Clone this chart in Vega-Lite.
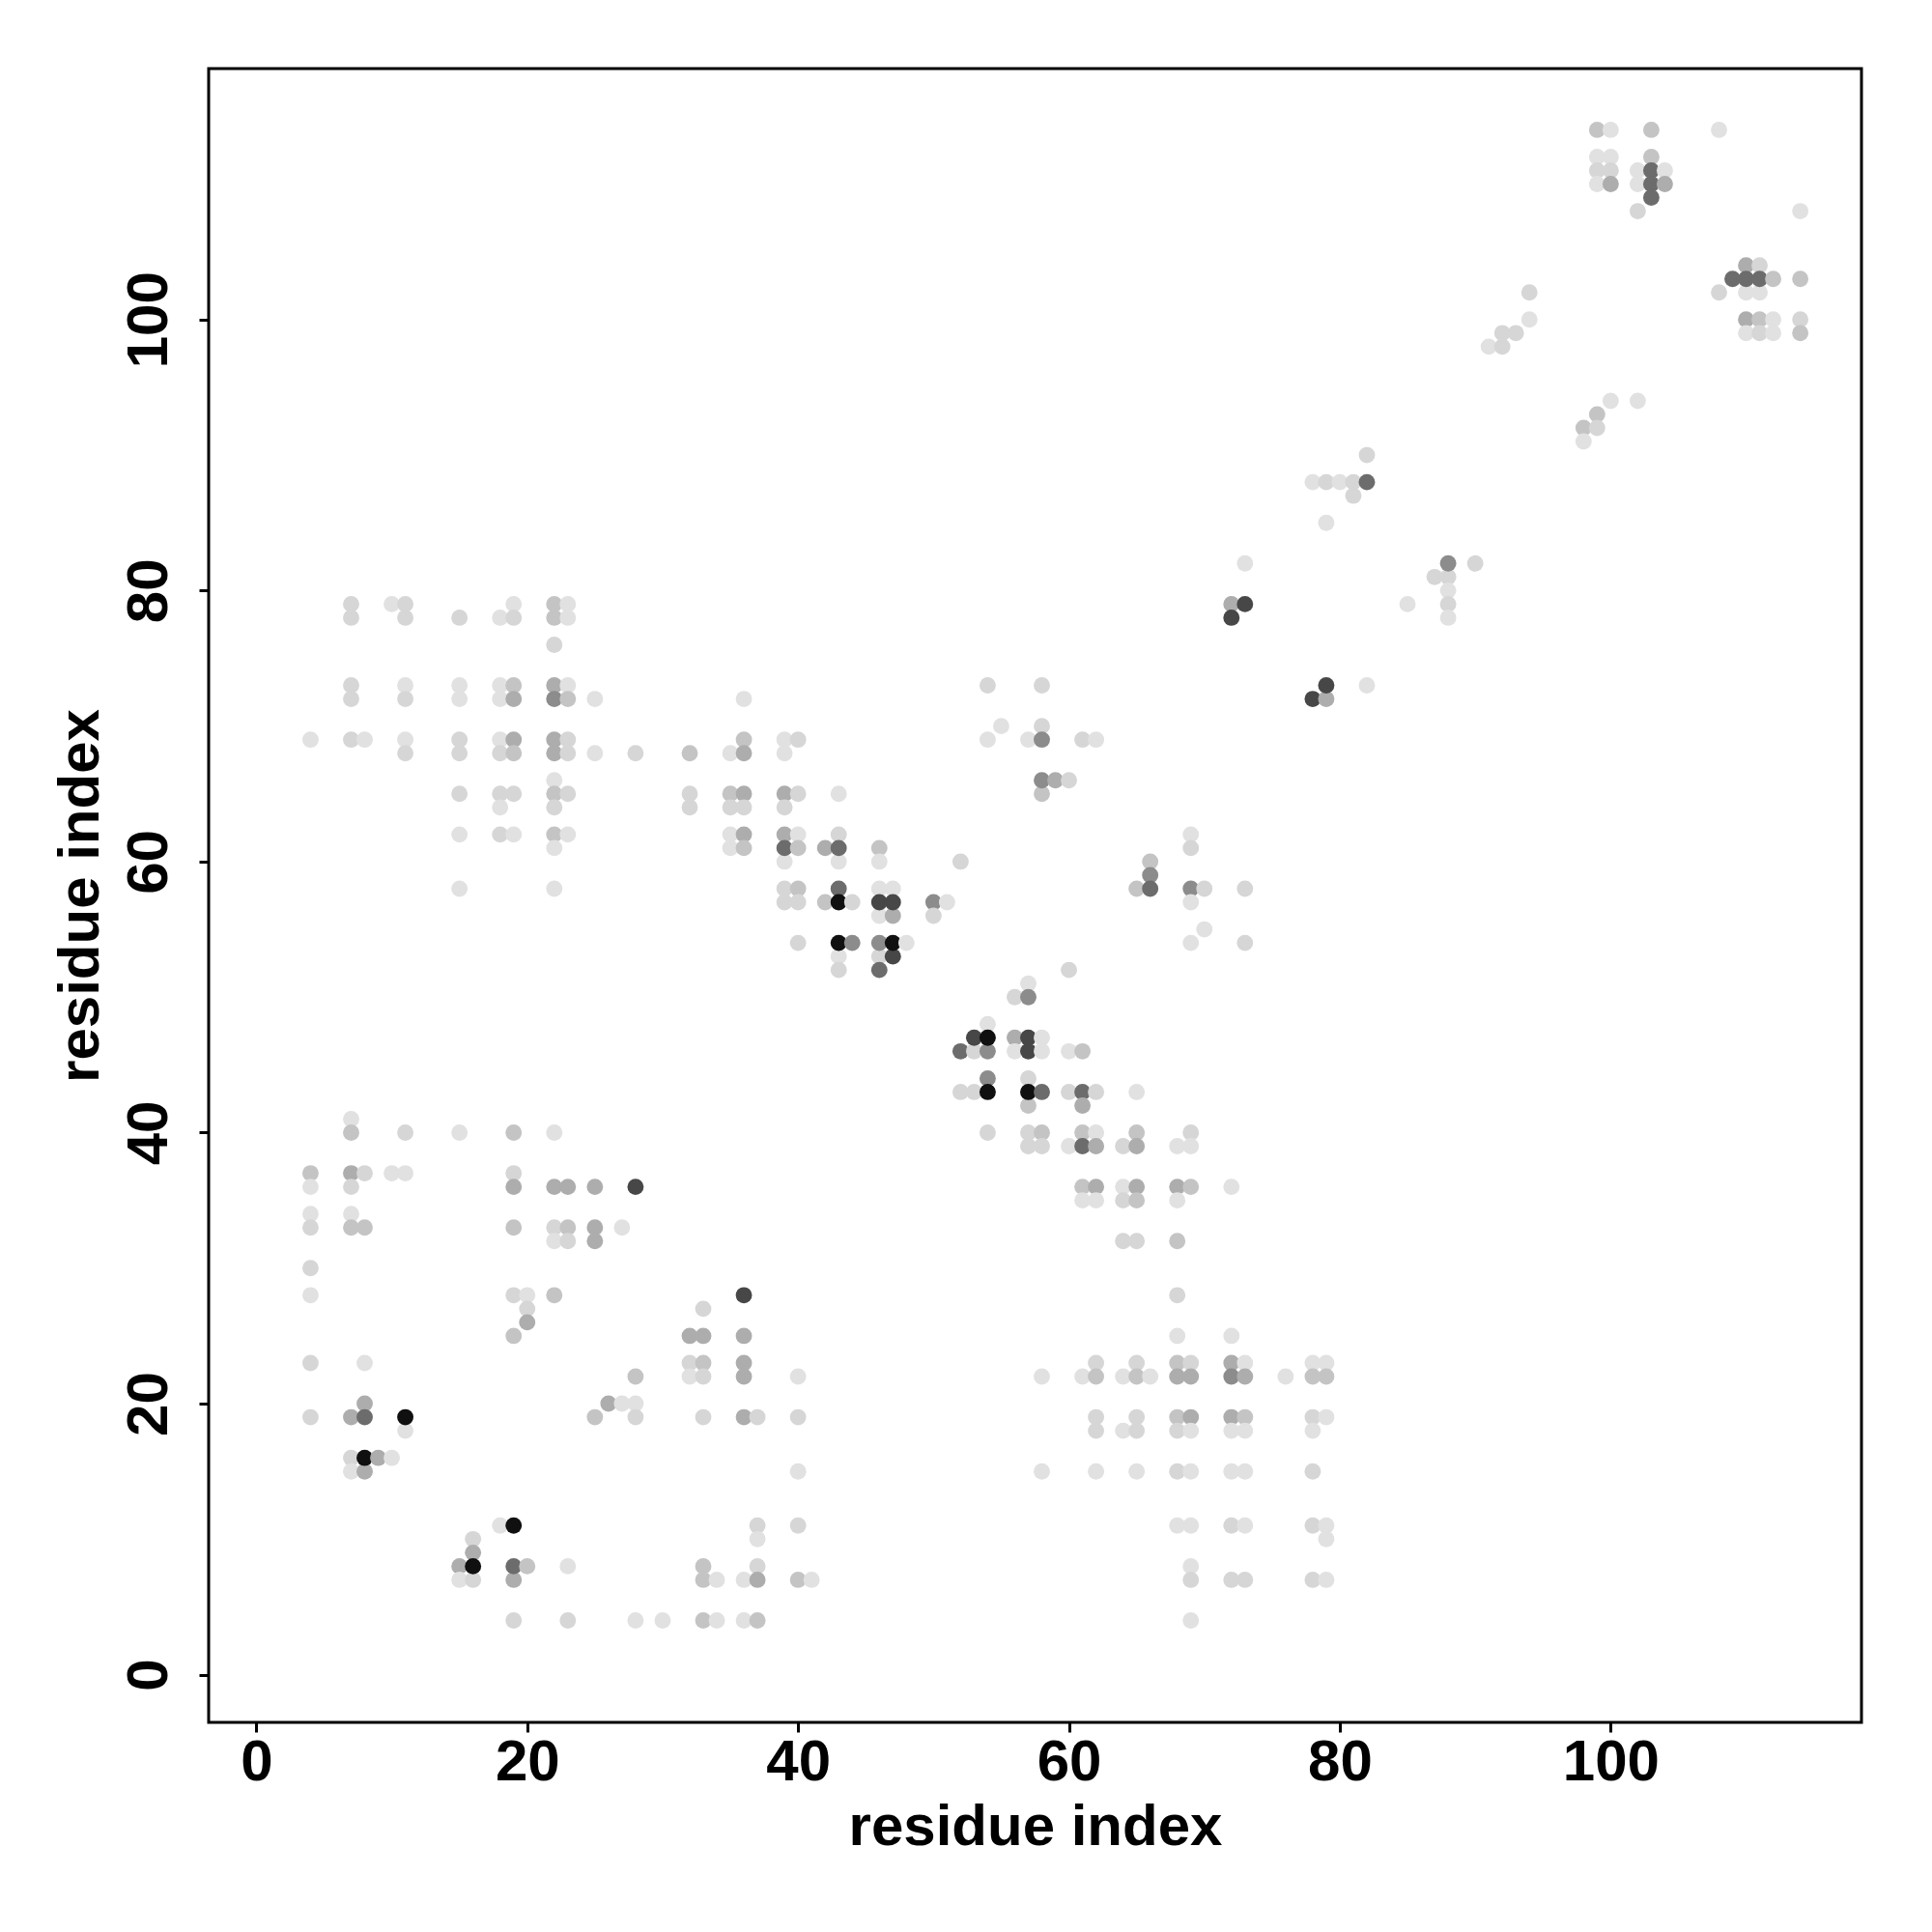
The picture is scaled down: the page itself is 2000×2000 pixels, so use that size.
{
  "$schema": "https://vega.github.io/schema/vega-lite/v6.json",
  "autosize": {"type": "none"},
  "padding": {"left": 216, "top": 71, "right": 73, "bottom": 216},
  "width": 1711,
  "height": 1712,
  "background": "white",
  "config": {
    "view": {"stroke": "#000000", "strokeWidth": 3},
    "font": "Liberation Sans"
  },
  "datasets": {
    "lv": [
      {"lvl": "VL", "p": 0.02}, {"lvl": "L", "p": 0.07}, {"lvl": "ML", "p": 0.15}, {"lvl": "M", "p": 0.25},
      {"lvl": "MD", "p": 0.39}, {"lvl": "D", "p": 0.53}, {"lvl": "VD", "p": 0.69}, {"lvl": "B", "p": 0.93}
    ]
  },
  "data": {
    "values": [
      {"i":4,"j":37,"lvl":"ML"},{"i":4,"j":36,"lvl":"VL"},{"i":4,"j":34,"lvl":"VL"},{"i":4,"j":33,"lvl":"L"},{"i":4,"j":30,"lvl":"L"},{"i":4,"j":28,"lvl":"VL"},{"i":4,"j":23,"lvl":"L"},{"i":4,"j":19,"lvl":"L"},{"i":4,"j":69,"lvl":"VL"},
      {"i":7,"j":41,"lvl":"VL"},{"i":7,"j":40,"lvl":"ML"},{"i":7,"j":37,"lvl":"M"},{"i":7,"j":36,"lvl":"L"},{"i":7,"j":34,"lvl":"VL"},{"i":7,"j":33,"lvl":"ML"},{"i":7,"j":19,"lvl":"M"},{"i":7,"j":16,"lvl":"L"},{"i":7,"j":15,"lvl":"VL"},
      {"i":7,"j":79,"lvl":"L"},{"i":7,"j":78,"lvl":"L"},{"i":7,"j":73,"lvl":"L"},{"i":7,"j":72,"lvl":"L"},{"i":7,"j":69,"lvl":"L"},
      {"i":8,"j":37,"lvl":"L"},{"i":8,"j":33,"lvl":"ML"},{"i":8,"j":23,"lvl":"VL"},{"i":8,"j":20,"lvl":"M"},{"i":8,"j":19,"lvl":"D"},{"i":8,"j":15,"lvl":"M"},{"i":8,"j":16,"lvl":"B"},{"i":8,"j":69,"lvl":"VL"},
      {"i":9,"j":16,"lvl":"M"},
      {"i":10,"j":37,"lvl":"VL"},{"i":10,"j":16,"lvl":"VL"},{"i":10,"j":79,"lvl":"VL"},
      {"i":11,"j":40,"lvl":"L"},{"i":11,"j":37,"lvl":"VL"},{"i":11,"j":18,"lvl":"VL"},{"i":11,"j":19,"lvl":"B"},
      {"i":11,"j":79,"lvl":"L"},{"i":11,"j":78,"lvl":"L"},{"i":11,"j":73,"lvl":"VL"},{"i":11,"j":72,"lvl":"L"},{"i":11,"j":69,"lvl":"VL"},{"i":11,"j":68,"lvl":"L"},
      {"i":15,"j":40,"lvl":"VL"},{"i":15,"j":8,"lvl":"M"},{"i":15,"j":7,"lvl":"VL"},
      {"i":15,"j":78,"lvl":"L"},{"i":15,"j":73,"lvl":"VL"},{"i":15,"j":72,"lvl":"VL"},{"i":15,"j":69,"lvl":"L"},{"i":15,"j":68,"lvl":"L"},{"i":15,"j":65,"lvl":"L"},{"i":15,"j":62,"lvl":"VL"},{"i":15,"j":58,"lvl":"VL"},
      {"i":16,"j":10,"lvl":"L"},{"i":16,"j":9,"lvl":"M"},{"i":16,"j":7,"lvl":"L"},{"i":16,"j":8,"lvl":"B"},
      {"i":18,"j":11,"lvl":"VL"},
      {"i":18,"j":78,"lvl":"VL"},{"i":18,"j":73,"lvl":"VL"},{"i":18,"j":72,"lvl":"VL"},{"i":18,"j":69,"lvl":"VL"},{"i":18,"j":68,"lvl":"L"},{"i":18,"j":65,"lvl":"L"},{"i":18,"j":64,"lvl":"VL"},{"i":18,"j":62,"lvl":"L"},
      {"i":19,"j":40,"lvl":"ML"},{"i":19,"j":37,"lvl":"L"},{"i":19,"j":36,"lvl":"M"},{"i":19,"j":33,"lvl":"ML"},{"i":19,"j":28,"lvl":"L"},{"i":19,"j":25,"lvl":"ML"},{"i":19,"j":11,"lvl":"B"},{"i":19,"j":7,"lvl":"M"},{"i":19,"j":8,"lvl":"D"},{"i":19,"j":4,"lvl":"L"},
      {"i":19,"j":79,"lvl":"VL"},{"i":19,"j":78,"lvl":"L"},{"i":19,"j":73,"lvl":"ML"},{"i":19,"j":72,"lvl":"M"},{"i":19,"j":69,"lvl":"M"},{"i":19,"j":68,"lvl":"ML"},{"i":19,"j":65,"lvl":"L"},{"i":19,"j":62,"lvl":"VL"},
      {"i":20,"j":28,"lvl":"VL"},{"i":20,"j":27,"lvl":"L"},{"i":20,"j":26,"lvl":"M"},{"i":20,"j":8,"lvl":"ML"},
      {"i":22,"j":40,"lvl":"VL"},{"i":22,"j":36,"lvl":"M"},{"i":22,"j":33,"lvl":"L"},{"i":22,"j":32,"lvl":"VL"},{"i":22,"j":28,"lvl":"ML"},
      {"i":22,"j":79,"lvl":"ML"},{"i":22,"j":78,"lvl":"ML"},{"i":22,"j":76,"lvl":"L"},{"i":22,"j":73,"lvl":"M"},{"i":22,"j":72,"lvl":"MD"},{"i":22,"j":69,"lvl":"M"},{"i":22,"j":68,"lvl":"M"},{"i":22,"j":66,"lvl":"VL"},{"i":22,"j":65,"lvl":"ML"},{"i":22,"j":64,"lvl":"L"},{"i":22,"j":62,"lvl":"ML"},{"i":22,"j":61,"lvl":"VL"},{"i":22,"j":58,"lvl":"VL"},
      {"i":23,"j":36,"lvl":"M"},{"i":23,"j":33,"lvl":"ML"},{"i":23,"j":32,"lvl":"L"},{"i":23,"j":8,"lvl":"VL"},{"i":23,"j":4,"lvl":"L"},
      {"i":23,"j":79,"lvl":"VL"},{"i":23,"j":78,"lvl":"VL"},{"i":23,"j":73,"lvl":"VL"},{"i":23,"j":72,"lvl":"ML"},{"i":23,"j":69,"lvl":"L"},{"i":23,"j":68,"lvl":"L"},{"i":23,"j":65,"lvl":"L"},{"i":23,"j":62,"lvl":"VL"},
      {"i":25,"j":36,"lvl":"M"},{"i":25,"j":33,"lvl":"M"},{"i":25,"j":32,"lvl":"M"},{"i":25,"j":19,"lvl":"ML"},{"i":25,"j":72,"lvl":"VL"},{"i":25,"j":68,"lvl":"VL"},
      {"i":26,"j":20,"lvl":"M"},
      {"i":27,"j":33,"lvl":"VL"},{"i":27,"j":20,"lvl":"VL"},
      {"i":28,"j":36,"lvl":"VD"},{"i":28,"j":22,"lvl":"ML"},{"i":28,"j":20,"lvl":"VL"},{"i":28,"j":19,"lvl":"L"},{"i":28,"j":4,"lvl":"VL"},{"i":28,"j":68,"lvl":"L"},
      {"i":30,"j":4,"lvl":"VL"},
      {"i":32,"j":25,"lvl":"M"},{"i":32,"j":23,"lvl":"L"},{"i":32,"j":22,"lvl":"VL"},{"i":32,"j":68,"lvl":"ML"},{"i":32,"j":65,"lvl":"L"},{"i":32,"j":64,"lvl":"L"},
      {"i":33,"j":27,"lvl":"L"},{"i":33,"j":25,"lvl":"M"},{"i":33,"j":23,"lvl":"ML"},{"i":33,"j":22,"lvl":"L"},{"i":33,"j":19,"lvl":"L"},{"i":33,"j":8,"lvl":"ML"},{"i":33,"j":7,"lvl":"ML"},{"i":33,"j":4,"lvl":"ML"},
      {"i":34,"j":7,"lvl":"VL"},{"i":34,"j":4,"lvl":"VL"},
      {"i":35,"j":68,"lvl":"VL"},{"i":35,"j":65,"lvl":"ML"},{"i":35,"j":64,"lvl":"L"},{"i":35,"j":62,"lvl":"VL"},{"i":35,"j":61,"lvl":"VL"},
      {"i":36,"j":28,"lvl":"VD"},{"i":36,"j":25,"lvl":"M"},{"i":36,"j":23,"lvl":"M"},{"i":36,"j":22,"lvl":"M"},{"i":36,"j":19,"lvl":"M"},{"i":36,"j":7,"lvl":"VL"},{"i":36,"j":4,"lvl":"VL"},
      {"i":36,"j":72,"lvl":"VL"},{"i":36,"j":69,"lvl":"ML"},{"i":36,"j":68,"lvl":"M"},{"i":36,"j":65,"lvl":"M"},{"i":36,"j":64,"lvl":"L"},{"i":36,"j":62,"lvl":"M"},{"i":36,"j":61,"lvl":"ML"},
      {"i":37,"j":19,"lvl":"L"},{"i":37,"j":11,"lvl":"L"},{"i":37,"j":10,"lvl":"VL"},{"i":37,"j":8,"lvl":"L"},{"i":37,"j":7,"lvl":"M"},{"i":37,"j":4,"lvl":"ML"},
      {"i":39,"j":69,"lvl":"VL"},{"i":39,"j":68,"lvl":"VL"},{"i":39,"j":65,"lvl":"M"},{"i":39,"j":64,"lvl":"L"},{"i":39,"j":62,"lvl":"M"},{"i":39,"j":60,"lvl":"VL"},{"i":39,"j":61,"lvl":"D"},{"i":39,"j":58,"lvl":"L"},{"i":39,"j":57,"lvl":"L"},
      {"i":40,"j":22,"lvl":"VL"},{"i":40,"j":19,"lvl":"L"},{"i":40,"j":15,"lvl":"VL"},{"i":40,"j":11,"lvl":"L"},{"i":40,"j":7,"lvl":"ML"},
      {"i":40,"j":69,"lvl":"L"},{"i":40,"j":65,"lvl":"L"},{"i":40,"j":62,"lvl":"VL"},{"i":40,"j":61,"lvl":"ML"},{"i":40,"j":58,"lvl":"ML"},{"i":40,"j":57,"lvl":"L"},{"i":40,"j":54,"lvl":"L"},
      {"i":41,"j":7,"lvl":"VL"},
      {"i":42,"j":61,"lvl":"M"},{"i":42,"j":57,"lvl":"ML"},
      {"i":43,"j":65,"lvl":"VL"},{"i":43,"j":62,"lvl":"L"},{"i":43,"j":60,"lvl":"VL"},{"i":43,"j":61,"lvl":"D"},{"i":43,"j":58,"lvl":"D"},{"i":43,"j":57,"lvl":"B"},{"i":43,"j":53,"lvl":"VL"},{"i":43,"j":52,"lvl":"L"},{"i":43,"j":54,"lvl":"B"},
      {"i":44,"j":57,"lvl":"L"},{"i":44,"j":54,"lvl":"MD"},
      {"i":46,"j":61,"lvl":"ML"},{"i":46,"j":60,"lvl":"VL"},{"i":46,"j":58,"lvl":"VL"},{"i":46,"j":56,"lvl":"VL"},{"i":46,"j":57,"lvl":"VD"},{"i":46,"j":53,"lvl":"L"},{"i":46,"j":54,"lvl":"MD"},{"i":46,"j":52,"lvl":"D"},
      {"i":47,"j":58,"lvl":"VL"},{"i":47,"j":56,"lvl":"M"},{"i":47,"j":57,"lvl":"VD"},{"i":47,"j":53,"lvl":"VD"},{"i":47,"j":54,"lvl":"B"},
      {"i":48,"j":54,"lvl":"VL"},
      {"i":50,"j":57,"lvl":"MD"},{"i":50,"j":56,"lvl":"L"},
      {"i":51,"j":57,"lvl":"VL"},
      {"i":52,"j":60,"lvl":"L"},{"i":52,"j":46,"lvl":"D"},{"i":52,"j":43,"lvl":"L"},
      {"i":53,"j":46,"lvl":"L"},{"i":53,"j":47,"lvl":"VD"},{"i":53,"j":43,"lvl":"L"},
      {"i":54,"j":73,"lvl":"L"},{"i":54,"j":69,"lvl":"VL"},{"i":54,"j":48,"lvl":"VL"},{"i":54,"j":46,"lvl":"MD"},{"i":54,"j":47,"lvl":"B"},{"i":54,"j":44,"lvl":"MD"},{"i":54,"j":43,"lvl":"B"},{"i":54,"j":40,"lvl":"L"},
      {"i":55,"j":70,"lvl":"VL"},
      {"i":56,"j":50,"lvl":"L"},{"i":56,"j":47,"lvl":"M"},{"i":56,"j":46,"lvl":"VL"},
      {"i":57,"j":69,"lvl":"VL"},{"i":57,"j":51,"lvl":"VL"},{"i":57,"j":50,"lvl":"MD"},{"i":57,"j":46,"lvl":"VD"},{"i":57,"j":47,"lvl":"VD"},{"i":57,"j":44,"lvl":"L"},{"i":57,"j":42,"lvl":"ML"},{"i":57,"j":43,"lvl":"B"},{"i":57,"j":40,"lvl":"L"},{"i":57,"j":39,"lvl":"L"},
      {"i":58,"j":73,"lvl":"L"},{"i":58,"j":70,"lvl":"L"},{"i":58,"j":69,"lvl":"MD"},{"i":58,"j":65,"lvl":"ML"},{"i":58,"j":66,"lvl":"MD"},{"i":58,"j":47,"lvl":"VL"},{"i":58,"j":46,"lvl":"VL"},{"i":58,"j":43,"lvl":"D"},{"i":58,"j":40,"lvl":"ML"},{"i":58,"j":39,"lvl":"L"},{"i":58,"j":22,"lvl":"VL"},{"i":58,"j":15,"lvl":"VL"},
      {"i":59,"j":66,"lvl":"M"},
      {"i":60,"j":66,"lvl":"L"},{"i":60,"j":52,"lvl":"L"},{"i":60,"j":46,"lvl":"VL"},{"i":60,"j":43,"lvl":"L"},{"i":60,"j":39,"lvl":"VL"},
      {"i":61,"j":69,"lvl":"L"},{"i":61,"j":46,"lvl":"ML"},{"i":61,"j":43,"lvl":"D"},{"i":61,"j":42,"lvl":"M"},{"i":61,"j":40,"lvl":"ML"},{"i":61,"j":39,"lvl":"D"},{"i":61,"j":36,"lvl":"ML"},{"i":61,"j":35,"lvl":"VL"},{"i":61,"j":22,"lvl":"VL"},
      {"i":62,"j":69,"lvl":"VL"},{"i":62,"j":43,"lvl":"L"},{"i":62,"j":40,"lvl":"VL"},{"i":62,"j":39,"lvl":"M"},{"i":62,"j":36,"lvl":"M"},{"i":62,"j":35,"lvl":"VL"},
      {"i":62,"j":23,"lvl":"L"},{"i":62,"j":22,"lvl":"ML"},{"i":62,"j":19,"lvl":"L"},{"i":62,"j":18,"lvl":"L"},{"i":62,"j":15,"lvl":"VL"},
      {"i":64,"j":39,"lvl":"L"},{"i":64,"j":36,"lvl":"VL"},{"i":64,"j":35,"lvl":"L"},{"i":64,"j":32,"lvl":"L"},{"i":64,"j":22,"lvl":"VL"},{"i":64,"j":18,"lvl":"VL"},
      {"i":65,"j":58,"lvl":"ML"},{"i":65,"j":43,"lvl":"VL"},{"i":65,"j":40,"lvl":"ML"},{"i":65,"j":39,"lvl":"M"},{"i":65,"j":36,"lvl":"M"},{"i":65,"j":35,"lvl":"ML"},{"i":65,"j":32,"lvl":"L"},
      {"i":65,"j":23,"lvl":"L"},{"i":65,"j":22,"lvl":"ML"},{"i":65,"j":19,"lvl":"L"},{"i":65,"j":18,"lvl":"L"},{"i":65,"j":15,"lvl":"VL"},
      {"i":66,"j":60,"lvl":"ML"},{"i":66,"j":59,"lvl":"MD"},{"i":66,"j":58,"lvl":"D"},{"i":66,"j":22,"lvl":"VL"},
      {"i":68,"j":39,"lvl":"VL"},{"i":68,"j":36,"lvl":"M"},{"i":68,"j":35,"lvl":"VL"},{"i":68,"j":32,"lvl":"ML"},{"i":68,"j":28,"lvl":"L"},{"i":68,"j":25,"lvl":"VL"},
      {"i":68,"j":23,"lvl":"ML"},{"i":68,"j":22,"lvl":"M"},{"i":68,"j":19,"lvl":"ML"},{"i":68,"j":18,"lvl":"L"},{"i":68,"j":15,"lvl":"L"},{"i":68,"j":11,"lvl":"VL"},
      {"i":69,"j":62,"lvl":"VL"},{"i":69,"j":61,"lvl":"L"},{"i":69,"j":58,"lvl":"MD"},{"i":69,"j":57,"lvl":"VL"},{"i":69,"j":54,"lvl":"VL"},{"i":69,"j":40,"lvl":"L"},{"i":69,"j":39,"lvl":"VL"},{"i":69,"j":36,"lvl":"ML"},
      {"i":69,"j":23,"lvl":"L"},{"i":69,"j":22,"lvl":"M"},{"i":69,"j":19,"lvl":"M"},{"i":69,"j":18,"lvl":"VL"},{"i":69,"j":15,"lvl":"VL"},{"i":69,"j":11,"lvl":"VL"},{"i":69,"j":8,"lvl":"VL"},{"i":69,"j":7,"lvl":"L"},{"i":69,"j":4,"lvl":"VL"},
      {"i":70,"j":58,"lvl":"L"},{"i":70,"j":55,"lvl":"VL"},
      {"i":72,"j":79,"lvl":"M"},{"i":72,"j":78,"lvl":"VD"},{"i":72,"j":36,"lvl":"VL"},{"i":72,"j":25,"lvl":"VL"},
      {"i":72,"j":23,"lvl":"M"},{"i":72,"j":22,"lvl":"MD"},{"i":72,"j":19,"lvl":"M"},{"i":72,"j":18,"lvl":"VL"},{"i":72,"j":15,"lvl":"VL"},{"i":72,"j":11,"lvl":"L"},{"i":72,"j":7,"lvl":"L"},
      {"i":73,"j":82,"lvl":"VL"},{"i":73,"j":79,"lvl":"VD"},{"i":73,"j":58,"lvl":"L"},{"i":73,"j":54,"lvl":"L"},
      {"i":73,"j":23,"lvl":"VL"},{"i":73,"j":22,"lvl":"M"},{"i":73,"j":19,"lvl":"ML"},{"i":73,"j":18,"lvl":"VL"},{"i":73,"j":15,"lvl":"VL"},{"i":73,"j":11,"lvl":"VL"},{"i":73,"j":7,"lvl":"L"},
      {"i":76,"j":22,"lvl":"VL"},
      {"i":78,"j":88,"lvl":"VL"},{"i":78,"j":72,"lvl":"VD"},
      {"i":78,"j":23,"lvl":"VL"},{"i":78,"j":22,"lvl":"ML"},{"i":78,"j":19,"lvl":"L"},{"i":78,"j":18,"lvl":"VL"},{"i":78,"j":15,"lvl":"L"},{"i":78,"j":11,"lvl":"L"},{"i":78,"j":7,"lvl":"L"},
      {"i":79,"j":88,"lvl":"L"},{"i":79,"j":85,"lvl":"VL"},{"i":79,"j":72,"lvl":"M"},{"i":79,"j":73,"lvl":"VD"},
      {"i":79,"j":23,"lvl":"VL"},{"i":79,"j":22,"lvl":"ML"},{"i":79,"j":19,"lvl":"VL"},{"i":79,"j":11,"lvl":"VL"},{"i":79,"j":10,"lvl":"VL"},{"i":79,"j":7,"lvl":"VL"},
      {"i":80,"j":88,"lvl":"VL"},
      {"i":81,"j":88,"lvl":"L"},{"i":81,"j":87,"lvl":"L"},
      {"i":82,"j":90,"lvl":"L"},{"i":82,"j":88,"lvl":"D"},{"i":82,"j":73,"lvl":"VL"},
      {"i":85,"j":79,"lvl":"VL"},
      {"i":87,"j":81,"lvl":"L"},
      {"i":88,"j":81,"lvl":"L"},{"i":88,"j":80,"lvl":"VL"},{"i":88,"j":79,"lvl":"L"},{"i":88,"j":78,"lvl":"VL"},{"i":88,"j":82,"lvl":"MD"},
      {"i":90,"j":82,"lvl":"L"},
      {"i":91,"j":98,"lvl":"VL"},
      {"i":92,"j":99,"lvl":"L"},{"i":92,"j":98,"lvl":"L"},
      {"i":93,"j":99,"lvl":"L"},
      {"i":94,"j":102,"lvl":"L"},{"i":94,"j":100,"lvl":"VL"},
      {"i":98,"j":92,"lvl":"ML"},{"i":98,"j":91,"lvl":"VL"},
      {"i":99,"j":93,"lvl":"ML"},{"i":99,"j":92,"lvl":"L"},
      {"i":99,"j":114,"lvl":"ML"},{"i":99,"j":112,"lvl":"VL"},{"i":99,"j":111,"lvl":"L"},{"i":99,"j":110,"lvl":"VL"},
      {"i":100,"j":94,"lvl":"VL"},{"i":100,"j":114,"lvl":"VL"},{"i":100,"j":112,"lvl":"VL"},{"i":100,"j":111,"lvl":"L"},{"i":100,"j":110,"lvl":"M"},
      {"i":102,"j":94,"lvl":"VL"},{"i":102,"j":111,"lvl":"VL"},{"i":102,"j":110,"lvl":"VL"},{"i":102,"j":108,"lvl":"L"},
      {"i":103,"j":114,"lvl":"ML"},{"i":103,"j":112,"lvl":"ML"},{"i":103,"j":111,"lvl":"D"},{"i":103,"j":110,"lvl":"D"},{"i":103,"j":109,"lvl":"D"},
      {"i":104,"j":111,"lvl":"VL"},{"i":104,"j":110,"lvl":"M"},
      {"i":108,"j":114,"lvl":"VL"},{"i":108,"j":102,"lvl":"L"},
      {"i":109,"j":103,"lvl":"D"},
      {"i":110,"j":104,"lvl":"M"},{"i":110,"j":102,"lvl":"VL"},{"i":110,"j":103,"lvl":"D"},{"i":110,"j":100,"lvl":"M"},{"i":110,"j":99,"lvl":"VL"},
      {"i":111,"j":104,"lvl":"L"},{"i":111,"j":102,"lvl":"VL"},{"i":111,"j":103,"lvl":"D"},{"i":111,"j":100,"lvl":"ML"},{"i":111,"j":99,"lvl":"L"},
      {"i":112,"j":103,"lvl":"ML"},{"i":112,"j":100,"lvl":"VL"},{"i":112,"j":99,"lvl":"VL"},
      {"i":114,"j":108,"lvl":"VL"},{"i":114,"j":103,"lvl":"ML"},{"i":114,"j":100,"lvl":"L"},{"i":114,"j":99,"lvl":"ML"}
    ]
  },
  "transform": [
    {"lookup": "lvl", "from": {"data": {"name": "lv"}, "key": "lvl", "fields": ["p"]}}
  ],
  "mark": {"type": "circle", "size": 285, "opacity": 1, "strokeWidth": 0},
  "encoding": {
    "x": {
      "field": "i", "type": "quantitative",
      "scale": {"domain": [-3.52, 118.52], "nice": false, "zero": false},
      "axis": {
        "values": [0, 20, 40, 60, 80, 100],
        "grid": false, "domain": false,
        "ticks": true, "tickSize": 10, "tickWidth": 3, "tickColor": "#000000",
        "labelFont": "Liberation Sans", "labelFontWeight": "bold", "labelFontSize": 60, "labelColor": "#000000",
        "labelPadding": 2, "labelBaseline": "top", "labelFlush": false, "labelOverlap": false,
        "title": "residue index", "titleFont": "Liberation Sans", "titleFontWeight": "bold", "titleFontSize": 60, "titleColor": "#000000",
        "titleX": 855.5, "titleY": 126, "titleBaseline": "alphabetic", "titleAlign": "center", "titleAnchor": "middle"
      }
    },
    "y": {
      "field": "j", "type": "quantitative",
      "scale": {"domain": [-3.52, 118.52], "nice": false, "zero": false},
      "axis": {
        "values": [0, 20, 40, 60, 80, 100],
        "grid": false, "domain": false,
        "ticks": true, "tickSize": 10, "tickWidth": 3, "tickColor": "#000000",
        "labelFont": "Liberation Sans", "labelFontWeight": "bold", "labelFontSize": 60, "labelColor": "#000000",
        "labelAngle": 270, "labelAlign": "center", "labelBaseline": "alphabetic", "labelPadding": 34,
        "labelFlush": false, "labelOverlap": false,
        "title": "residue index", "titleFont": "Liberation Sans", "titleFontWeight": "bold", "titleFontSize": 60, "titleColor": "#000000",
        "titleAngle": 270, "titleX": -115, "titleY": 856, "titleBaseline": "alphabetic", "titleAlign": "center", "titleAnchor": "middle"
      }
    },
    "color": {
      "field": "p", "type": "quantitative",
      "scale": {"domain": [0, 1], "range": ["#e6e6e6", "#000000"], "interpolate": "rgb"},
      "legend": null
    }
  }
}
